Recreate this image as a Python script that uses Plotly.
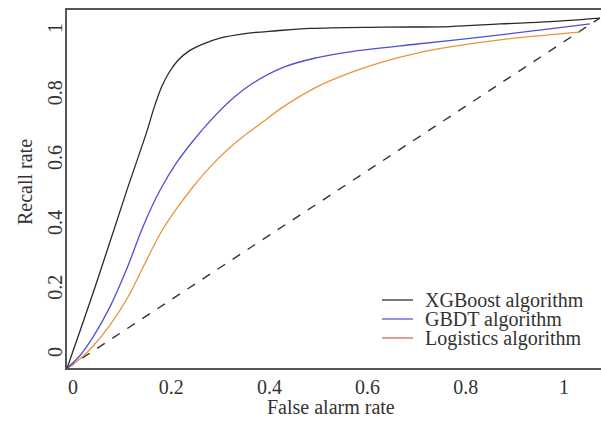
import plotly.graph_objects as go

# ---- data ----
xgb_x = [-0.012, 0.045, 0.110, 0.150, 0.165, 0.180, 0.196, 0.214, 0.236, 0.262, 0.299, 0.354, 0.415, 0.483, 0.631, 0.768, 0.870, 0.971, 1.073]
xgb_y = [-0.028, 0.222, 0.522, 0.700, 0.775, 0.838, 0.885, 0.922, 0.950, 0.970, 0.990, 1.005, 1.013, 1.020, 1.024, 1.026, 1.034, 1.041, 1.052]

gbdt_x = [-0.012, 0.014, 0.041, 0.075, 0.110, 0.143, 0.177, 0.212, 0.244, 0.279, 0.320, 0.360, 0.428, 0.497, 0.564, 0.701, 0.835, 0.971, 1.053]
gbdt_y = [-0.028, 0.010, 0.068, 0.160, 0.280, 0.410, 0.520, 0.608, 0.672, 0.734, 0.797, 0.845, 0.900, 0.930, 0.948, 0.972, 0.994, 1.019, 1.034]

log_x = [-0.012, 0.014, 0.041, 0.075, 0.110, 0.143, 0.177, 0.212, 0.244, 0.279, 0.314, 0.346, 0.381, 0.428, 0.497, 0.564, 0.631, 0.701, 0.768, 0.904, 1.033]
log_y = [-0.028, 0.000, 0.040, 0.104, 0.186, 0.284, 0.385, 0.466, 0.530, 0.592, 0.645, 0.686, 0.725, 0.778, 0.840, 0.883, 0.917, 0.944, 0.963, 0.991, 1.009]

diag_x = [-0.012, 1.073]
diag_y = [-0.028, 1.052]

tick_vals = [0, 0.2, 0.4, 0.6, 0.8, 1]
tick_text = ["0", "0.2", "0.4", "0.6", "0.8", "1"]

legend_names = ["XGBoost algorithm", "GBDT algorithm", "Logistics algorithm"]
legend_colors = ["#333333", "#5a5ad8", "#e06060"]

FONT = "Liberation Serif"
TXT = "#333333"

fig = go.Figure()
fig.add_trace(go.Scatter(x=diag_x, y=diag_y, mode="lines",
                         line=dict(color="#333333", width=1.4, dash="dash"), showlegend=False))
fig.add_trace(go.Scatter(x=log_x, y=log_y, mode="lines", line_shape="spline",
                         line=dict(color="#e8963c", width=1.3), showlegend=False))
fig.add_trace(go.Scatter(x=gbdt_x, y=gbdt_y, mode="lines", line_shape="spline",
                         line=dict(color="#4f4fd6", width=1.3), showlegend=False))
fig.add_trace(go.Scatter(x=xgb_x, y=xgb_y, mode="lines", line_shape="spline",
                         line=dict(color="#2a2a2a", width=1.3), showlegend=False))

W, H = 601, 430
L, R, T, B = 67, 0, 10, 62
pw, ph = W - L - R, H - T - B

def px2paper(px, py):
    return (px - L) / pw, (H - B - py) / ph

# custom legend
rows_y = [300, 319, 338]
for name, col, ry in zip(legend_names, legend_colors, rows_y):
    x0, y0 = px2paper(382, ry)
    x1, _ = px2paper(413, ry)
    fig.add_shape(type="line", xref="paper", yref="paper", x0=x0, x1=x1, y0=y0, y1=y0,
                  line=dict(color=col, width=1.3))
    tx, ty = px2paper(423, ry)
    fig.add_annotation(x=tx, y=ty, xref="paper", yref="paper", text=name, showarrow=False,
                       xanchor="left", yanchor="middle", font=dict(family=FONT, size=20, color=TXT))

# axis titles
ax, ay = px2paper(25, 182)
fig.add_annotation(x=ax, y=ay, xref="paper", yref="paper", text="Recall rate", showarrow=False,
                   textangle=-90, xanchor="center", yanchor="middle",
                   font=dict(family=FONT, size=20, color=TXT))
bx, by = px2paper(331, 407)
fig.add_annotation(x=bx, y=by, xref="paper", yref="paper", text="False alarm rate", showarrow=False,
                   xanchor="center", yanchor="middle",
                   font=dict(family=FONT, size=20, color=TXT))

fig.update_layout(
    width=W, height=H,
    margin=dict(l=L, r=R, t=T, b=B, autoexpand=False),
    paper_bgcolor="white", plot_bgcolor="white",
    font=dict(family=FONT, size=20, color=TXT),
    xaxis=dict(range=[-0.0122, 1.0754], tickvals=tick_vals, ticktext=tick_text,
               showgrid=False, zeroline=False, showline=True, mirror=True, automargin=False,
               linecolor="#555555", linewidth=1.5, ticks="",
               tickfont=dict(family=FONT, size=20, color=TXT)),
    yaxis=dict(range=[-0.0278, 1.077], tickvals=tick_vals, ticktext=tick_text,
               showgrid=False, zeroline=False, showline=True, mirror=False, automargin=False,
               linecolor="#555555", linewidth=1.5, ticks="", tickangle=-90,
               ticklabelshift=-4, ticklabelstandoff=-5,
               tickfont=dict(family=FONT, size=20, color=TXT)),
)

fig.write_html("out.html", config={"displayModeBar": False},
               post_script="document.body.style.margin='0';document.body.style.padding='0';")
